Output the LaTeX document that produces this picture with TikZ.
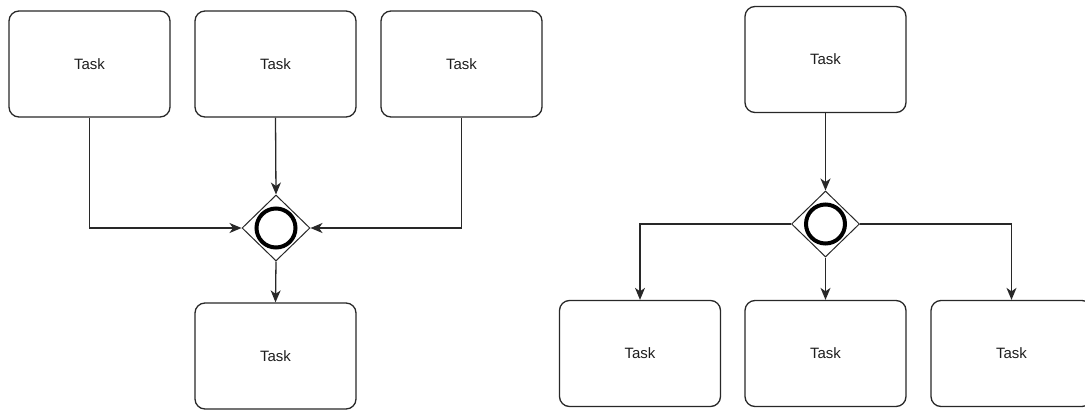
\documentclass[tikz,border=0pt]{standalone}
\usepackage{fontspec}
\setmainfont{Liberation Sans}
\usetikzlibrary{shapes.geometric,arrows.meta}
\definecolor{linecol}{RGB}{40,40,40}
\definecolor{textcol}{RGB}{30,30,30}
\tikzset{
  task/.style={draw=linecol, line width=1.3pt, rounded corners=10pt, fill=white,
    minimum width=161pt, minimum height=106pt, inner sep=0pt,
    text=textcol, font=\fontsize{15}{17}\selectfont},
  gateway/.style={draw=linecol, line width=1pt, diamond, fill=white,
    minimum width=68pt, minimum height=66pt, inner sep=0pt},
  ring/.style={draw=black, line width=4pt},
  flow/.style={draw=linecol, line width=1.3pt,
    -{Stealth[length=12pt,width=10pt,inset=3.5pt]}},
}
\begin{document}
\begin{tikzpicture}[x=1pt,y=-1pt]
  \useasboundingbox[fill=white] (0,0) rectangle (1085,410);

  % converging gateway (left)
  \node[task] (l1) at (89.5,64) {Task};
  \node[task] (l2) at (275.5,64) {Task};
  \node[task] (l3) at (461.5,64) {Task};
  \node[gateway] (gl) at (276,228) {};
  \draw[ring] (gl.center) circle[radius=19.5pt];
  \node[task] (l4) at (275.5,356) {Task};

  \draw[flow] (l1.south) |- (gl.west);
  \draw[flow] (l2.south) -- (gl.north);
  \draw[flow] (l3.south) |- (gl.east);
  \draw[flow] (gl.south) -- (l4.north);

  % diverging gateway (right)
  \node[task] (r1) at (825.5,59.5) {Task};
  \node[gateway] (gr) at (825.5,224) {};
  \draw[ring] (gr.center) circle[radius=19.5pt];
  \node[task] (r2) at (640,353.5) {Task};
  \node[task] (r3) at (825.5,353.5) {Task};
  \node[task] (r4) at (1011.5,353.5) {Task};

  \draw[flow] (r1.south) -- (gr.north);
  \draw[flow] (gr.west) -| (r2.north);
  \draw[flow] (gr.south) -- (r3.north);
  \draw[flow] (gr.east) -| (r4.north);
\end{tikzpicture}
\end{document}
